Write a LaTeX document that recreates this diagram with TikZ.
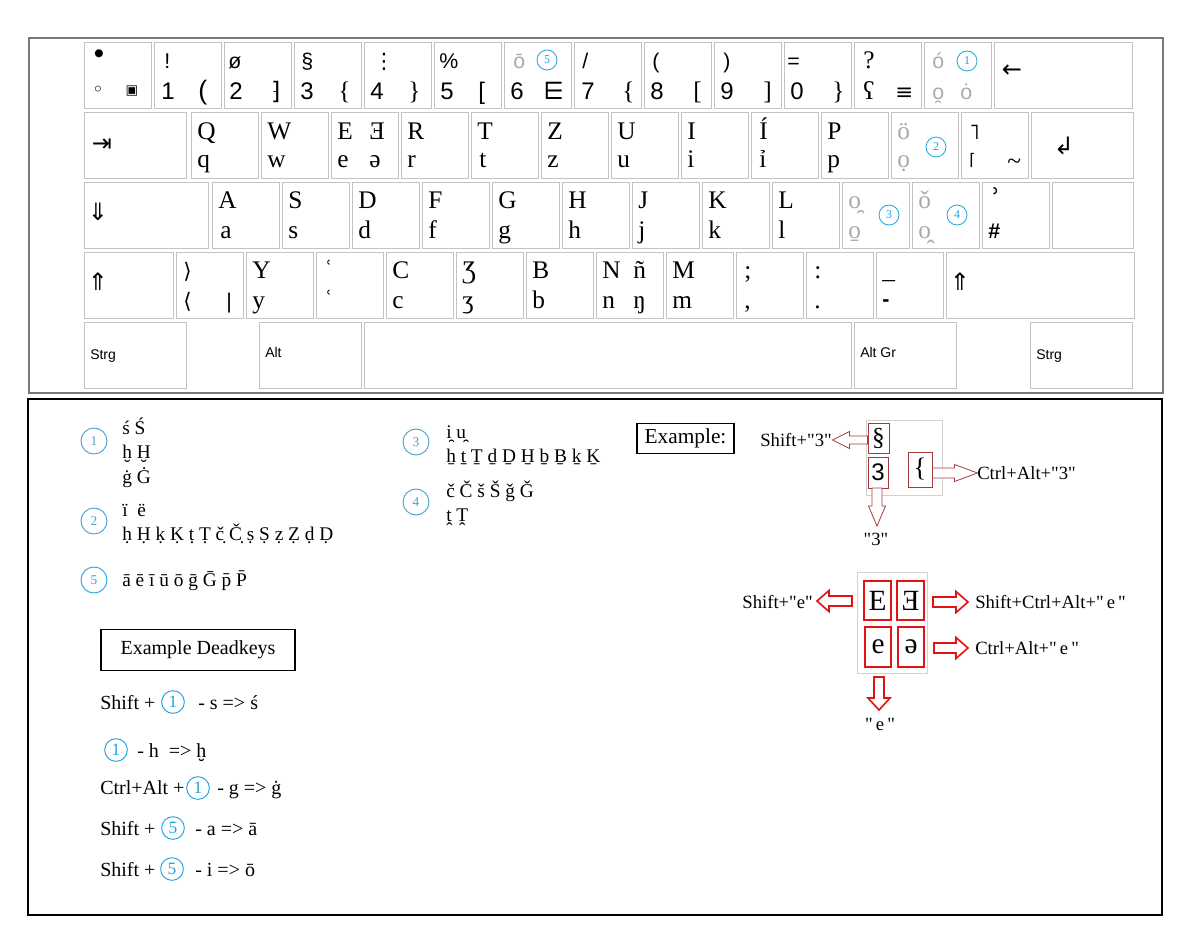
\documentclass[tikz,border=0pt]{standalone}
\usepackage{fontspec}
\setmainfont{Liberation Serif}[Ligatures=TeXOff]
\newfontfamily\ars{Liberation Sans}[Ligatures=TeXOff]
\newfontfamily\dvs{DejaVu Sans}
\definecolor{keyg}{RGB}{195,195,195}
\definecolor{cblue}{RGB}{30,165,225}
\definecolor{ctea}{RGB}{75,160,200}
\definecolor{dred}{RGB}{165,60,60}
\definecolor{bred}{RGB}{225,20,20}
\definecolor{grayt}{RGB}{170,170,170}
\definecolor{frameg}{RGB}{120,120,120}
\newcounter{lbc}
\newcommand\KL[5][]{\stepcounter{lbc}\node[lbl,#1,name=L\arabic{lbc}] at ([shift={(#3,#4)}]#2.north west) {#5};}
\newcommand\KC[5][]{\stepcounter{lbc}\node[lblc,#1,name=L\arabic{lbc}] at ([shift={(#3,#4)}]#2.north west) {#5};}
\newcommand\qd{\symbol{34}}
\tikzset{
  lbl/.style={anchor=base west, inner sep=0pt},
  lblc/.style={anchor=center, inner sep=0pt},
  key/.style={draw=keyg, line width=0.6pt, anchor=north west, inner sep=0pt, minimum height=49.5pt, minimum width=50.25pt},
  ser/.style={font=\fontsize{19}{19}\selectfont},
  snum/.style={font=\ars\fontsize{18}{18}\selectfont},
  stop/.style={font=\ars\fontsize{16}{16}\selectfont},
  dv/.style={font=\dvs\fontsize{16}{16}\selectfont},
  dvb/.style={font=\dvs\fontsize{18}{18}\selectfont},
  keyf/.style={font=\ars\fontsize{10.5}{10.5}\selectfont},
  gt/.style={text=grayt},
  kc/.style={circle, draw=cblue, line width=0.6pt, minimum size=15pt, inner sep=0pt, text=cblue, font=\fontsize{9}{9}\selectfont},
  lc/.style={circle, draw=ctea, line width=0.7pt, minimum size=19.5pt, inner sep=0pt, text=ctea, font=\fontsize{10}{10}\selectfont},
  ec/.style={circle, draw=cblue, line width=0.7pt, minimum size=17pt, inner sep=0pt, text=cblue, font=\fontsize{13}{13}\selectfont},
  lst/.style={anchor=base west, inner sep=0pt, font=\fontsize{14.5}{14.5}\selectfont},
  exl/.style={anchor=base west, inner sep=0pt, font=\fontsize{15}{15}\selectfont},
  arl/.style={inner sep=0pt, font=\fontsize{14}{14}\selectfont},
  rbox/.style={draw=dred, line width=0.7pt, inner sep=0pt},
  rboxb/.style={draw=bred, line width=1pt, inner sep=0pt, font=\fontsize{22}{22}\selectfont},
  pics/harrow/.style n args={4}{code={
    \draw[pic actions] (0,-#2/2) -- ({#1-#4},-#2/2) -- ({#1-#4},-#3/2) -- (#1,0) -- ({#1-#4},#3/2) -- ({#1-#4},#2/2) -- (0,#2/2) -- cycle;}}
}
\begin{document}
\begin{tikzpicture}[x=0.75pt,y=-0.75pt]
\useasboundingbox[fill=white] (0,0) rectangle (1184,936);
% frames
\draw[frameg, line width=0.8pt] (29,38) rectangle (1163,393);
\draw[black, line width=1.5pt] (28,399) rectangle (1162,915);

% ---------- Row 1
\foreach \i in {0,...,12} {\node[key] (r1k\i) at ({84+70*\i},42) {};}
\node[key, minimum width=103.5pt] (r1bs) at (994,42) {};
\KC[font=\ars\fontsize{22}{22}\selectfont]{r1k0}{15}{15}{•}
\KC[font=\dvs\fontsize{15}{15}\selectfont]{r1k0}{14}{49}{◦}
\KC[font=\dvs\fontsize{10}{10}\selectfont]{r1k0}{48}{49}{▣}
\KL[stop]{r1k1}{10}{26}{!}
\KL[snum]{r1k1}{7}{57}{1}
\KL[font=\ars\fontsize{20}{20}\selectfont]{r1k1}{44}{57}{(}
\KL[stop]{r1k2}{4}{26}{ø}
\KL[snum]{r1k2}{5}{57}{2}
\KL[dvb]{r1k2}{47}{57}{⁆}
\KL[stop]{r1k3}{7}{26}{§}
\KL[snum]{r1k3}{6}{57}{3}
\KL[ser]{r1k3}{44}{57}{\{}
\KL[dv]{r1k4}{9}{26}{⋮}
\KL[snum]{r1k4}{6}{57}{4}
\KL[ser]{r1k4}{44}{57}{\}}
\KL[stop]{r1k5}{5}{26}{\%}
\KL[snum]{r1k5}{6}{57}{5}
\KL[snum]{r1k5}{44}{57}{[}
\KL[stop,gt]{r1k6}{9}{26}{ō}
\KC[kc]{r1k6}{43}{18}{5}
\KL[snum]{r1k6}{6}{57}{6}
\KL[dvb]{r1k6}{39}{57}{⋿}
\KL[stop]{r1k7}{8}{26}{/}
\KL[snum]{r1k7}{7}{57}{7}
\KL[ser]{r1k7}{48}{57}{\{}
\KL[stop]{r1k8}{8}{26}{(}
\KL[snum]{r1k8}{6}{57}{8}
\KL[ser]{r1k8}{49}{57}{[}
\KL[stop]{r1k9}{9}{26}{)}
\KL[snum]{r1k9}{6}{57}{9}
\KL[ser]{r1k9}{49}{57}{]}
\KL[stop]{r1k10}{3}{26}{=}
\KL[snum]{r1k10}{6}{57}{0}
\KL[ser]{r1k10}{48}{57}{\}}
\KL[ser]{r1k11}{9}{26}{?}
\KL[ser]{r1k11}{9}{57}{ʕ}
\KL[dv]{r1k11}{41}{57}{≡}
\KL[stop,gt]{r1k12}{8}{26}{ó}
\KC[kc]{r1k12}{43}{19}{1}
\KL[stop,gt]{r1k12}{8}{57}{o̯}
\KL[stop,gt]{r1k12}{36}{57}{ȯ}
\KC[dvb]{r1bs}{18}{29}{←}

% ---------- Row 2
\node[key, minimum width=76.5pt] (tab) at (84,112) {};
\foreach \i in {0,...,11} {\node[key] (r2k\i) at ({191+70*\i},112) {};}
\node[key, minimum width=76.5pt] (enter) at (1031,112) {};
\KC[dvb]{tab}{18}{33}{⇥}
\KL[ser]{r2k0}{6}{27}{Q}\KL[ser]{r2k0}{6}{55}{q}
\KL[ser]{r2k1}{6}{27}{W}\KL[ser]{r2k1}{6}{55}{w}
\KL[ser]{r2k2}{6}{27}{E}\KL[ser]{r2k2}{6}{55}{e}
\KL[ser]{r2k2}{38}{27}{Ǝ}\KL[ser]{r2k2}{38}{55}{ə}
\KL[ser]{r2k3}{6}{27}{R}\KL[ser]{r2k3}{6}{55}{r}
\KL[ser]{r2k4}{6}{27}{T}\KL[ser]{r2k4}{8}{55}{t}
\KL[ser]{r2k5}{6}{27}{Z}\KL[ser]{r2k5}{6}{55}{z}
\KL[ser]{r2k6}{6}{27}{U}\KL[ser]{r2k6}{6}{55}{u}
\KL[ser]{r2k7}{6}{27}{I}\KL[ser]{r2k7}{6}{55}{i}
\KL[ser]{r2k8}{8}{27}{Í}\KL[ser]{r2k8}{8}{55}{ỉ}
\KL[ser]{r2k9}{6}{27}{P}\KL[ser]{r2k9}{6}{55}{p}
\KL[ser,gt]{r2k10}{6}{27}{ö}\KL[ser,gt]{r2k10}{6}{55}{ọ}
\KC[kc]{r2k10}{45}{35}{2}
\KL[dv]{r2k11}{8}{27}{˥}
\KL[font=\dvs\fontsize{12}{12}\selectfont]{r2k11}{8}{53}{⌈}
\KL[ser]{r2k11}{46}{57}{\char`\~}
\KC[dvb]{enter}{33}{34}{↲}

% ---------- Row 3
\node[key, minimum width=93pt] (caps) at (84,182) {};
\foreach \i in {0,...,11} {\node[key] (r3k\i) at ({212+70*\i},182) {};}
\node[key, minimum width=60.75pt] (r3end) at (1052,182) {};
\KC[dvb]{caps}{14}{30}{⇓}
\KL[ser]{r3k0}{6}{26}{A}\KL[ser]{r3k0}{8}{56}{a}
\KL[ser]{r3k1}{6}{26}{S}\KL[ser]{r3k1}{6}{56}{s}
\KL[ser]{r3k2}{6}{26}{D}\KL[ser]{r3k2}{6}{56}{d}
\KL[ser]{r3k3}{6}{26}{F}\KL[ser]{r3k3}{6}{56}{f}
\KL[ser]{r3k4}{6}{26}{G}\KL[ser]{r3k4}{6}{56}{g}
\KL[ser]{r3k5}{6}{26}{H}\KL[ser]{r3k5}{6}{56}{h}
\KL[ser]{r3k6}{6}{26}{J}\KL[ser]{r3k6}{6}{56}{j}
\KL[ser]{r3k7}{6}{26}{K}\KL[ser]{r3k7}{6}{56}{k}
\KL[ser]{r3k8}{6}{26}{L}\KL[ser]{r3k8}{6}{56}{l}
\KL[ser,gt]{r3k9}{6}{26}{o̯}\KL[ser,gt]{r3k9}{6}{56}{o̱}
\KC[kc]{r3k9}{47}{33}{3}
\KL[ser,gt]{r3k10}{6}{26}{ǒ}\KL[ser,gt]{r3k10}{6}{56}{o̭}
\KC[kc]{r3k10}{45}{33}{4}
\KL[font=\bfseries\fontsize{28}{28}\selectfont]{r3k11}{7}{32}{ʾ}
\KL[font=\ars\bfseries\fontsize{16}{16}\selectfont]{r3k11}{6}{56}{\#}

% ---------- Row 4
\node[key, minimum width=66.75pt] (lshift) at (84,252) {};
\foreach \i in {0,...,10} {\node[key] (r4k\i) at ({176+70*\i},252) {};}
\node[key, minimum width=141pt] (rshift) at (946,252) {};
\KC[dvb]{lshift}{14}{30}{⇑}
\KC[dvb]{rshift}{14}{30}{⇑}
\KL[dv]{r4k0}{7}{26}{⟩}\KL[dv]{r4k0}{7}{56}{⟨}
\KL[stop]{r4k0}{50}{56}{|}
\KL[ser]{r4k1}{6}{26}{Y}\KL[ser]{r4k1}{6}{56}{y}
\KL[ser]{r4k2}{8}{26}{ʿ}\KL[ser]{r4k2}{8}{56}{ʿ}
\KL[ser]{r4k3}{6}{26}{C}\KL[ser]{r4k3}{6}{56}{c}
\KL[ser]{r4k4}{6}{26}{Ʒ}\KL[ser]{r4k4}{6}{56}{ʒ}
\KL[ser]{r4k5}{6}{26}{B}\KL[ser]{r4k5}{6}{56}{b}
\KL[ser]{r4k6}{6}{26}{N}\KL[ser]{r4k6}{6}{56}{n}
\KL[ser]{r4k6}{37}{26}{ñ}\KL[ser]{r4k6}{37}{56}{ŋ}
\KL[ser]{r4k7}{6}{26}{M}\KL[ser]{r4k7}{6}{56}{m}
\KL[ser]{r4k8}{8}{26}{;}\KL[ser]{r4k8}{8}{56}{,}
\KL[ser]{r4k9}{8}{26}{:}\KL[ser]{r4k9}{8}{56}{.}
\KL[ser]{r4k10}{6}{26}{\_}\KL[font=\ars\bfseries\fontsize{16}{16}\selectfont]{r4k10}{6}{54}{-}

% ---------- Row 5
\node[key, minimum width=76.5pt] (lstrg) at (84,322) {};
\node[key, minimum width=76.5pt] (alt) at (259,322) {};
\node[key, minimum width=365.25pt] (space) at (364,322) {};
\node[key, minimum width=76.5pt] (altgr) at (854,322) {};
\node[key, minimum width=76.5pt] (rstrg) at (1030,322) {};
\KL[keyf]{lstrg}{6}{37}{Strg}
\KL[keyf]{alt}{6}{35}{Alt}
\KL[keyf]{altgr}{6}{35}{Alt Gr}
\KL[keyf]{rstrg}{6}{37}{Strg}

% ---------- Dead key listing
\node[lc] (c1) at (94,441) {1};
\node[lc] (c2) at (94,521) {2};
\node[lc, draw=cblue, text=cblue] (c5) at (94,580) {5};
\node[lc] (c3) at (416,442) {3};
\node[lc] (c4) at (416,502) {4};
\node[lst] (s1a) at (122,434) {ś Ś};
\node[lst] (s1b) at (122,458) {ḫ Ḫ};
\node[lst] (s1c) at (122,483) {ġ Ġ};
\node[lst] (s2a) at (122,516) {ï\ \ ë};
\node[lst] (s2b) at (122,540) {ḥ Ḥ ḳ Ḳ ṭ Ṭ č̣ Č̣ ṣ Ṣ ẓ Ẓ ḍ Ḍ};
\node[lst] (s5a) at (122,586) {ā ē ī ū ō ḡ Ḡ p̄ P̄};
\node[lst] (s3a) at (446,438) {i̯ u̯};
\node[lst] (s3b) at (446,462) {ẖ ṯ Ṯ ḏ Ḏ H̱ ḇ Ḇ ḵ Ḵ};
\node[lst] (s4a) at (446,497) {č Č š Š ǧ Ǧ};
\node[lst] (s4b) at (446,521) {ṱ Ṱ};

% ---------- Example deadkeys
\node[draw=black, line width=1pt, minimum width=145.5pt, minimum height=30.75pt, font=\fontsize{15}{15}\selectfont] (edk) at (198,650) {Example Deadkeys};
\node[exl] (e1a) at (100,709) {Shift +};
\node[ec] (e1c) at (173,702) {1};
\node[exl] (e1b) at (198,709) {- s => ś};
\node[ec] (e2c) at (116,750) {1};
\node[exl] (e2b) at (137,757) {- h\ \ => ḫ};
\node[exl] (e3a) at (100,794) {Ctrl+Alt +};
\node[ec] (e3c) at (198,788) {1};
\node[exl] (e3b) at (217,794) {- g => ġ};
\node[exl] (e4a) at (100,835) {Shift +};
\node[ec] (e4c) at (173,828) {5};
\node[exl] (e4b) at (195,835) {- a => ā};
\node[exl] (e5a) at (100,876) {Shift +};
\node[ec] (e5c) at (172,869) {5};
\node[exl] (e5b) at (195,876) {- i => ō};

% ---------- Example (key 3)
\node[draw=black, line width=0.8pt, minimum width=72.75pt, minimum height=22.5pt, font=\fontsize{16}{16}\selectfont] (exm) at (685.5,438.5) {Example:};
\node[draw=gray!35, line width=0.6pt, minimum width=57pt, minimum height=56.25pt] (g1) at (904,457.5) {};
\node[rbox, minimum width=15.75pt, minimum height=22.5pt, font=\fontsize{19}{19}\selectfont] (bsec) at (878.5,438) {§};
\node[rbox, minimum width=15pt, minimum height=23.25pt, font=\ars\fontsize{18}{18}\selectfont] (bthree) at (878,472.5) {3};
\node[rbox, minimum width=18pt, minimum height=26.25pt, font=\fontsize{20}{20}\selectfont] (bbrace) at (920,469.5) {\{};
\pic[draw=dred, fill=white, line width=0.6pt, rotate=180] at (bsec.west |- 0,440) {harrow={35}{8}{17}{17}};
\pic[draw=dred, fill=white, line width=0.6pt] at (bbrace.east |- 0,473) {harrow={45}{10}{17}{23}};
\pic[draw=dred, fill=white, line width=0.6pt, rotate=-90] at (877,488) {harrow={38}{10}{17}{20}};
\node[arl, anchor=base east] (t3s) at (832,446) {Shift+\qd 3\qd};
\node[arl, anchor=base west] (t3c) at (977,479) {Ctrl+Alt+\qd 3\qd};
\node[arl, anchor=base] (t3n) at (876,545) {\qd 3\qd};

% ---------- Example (key e)
\node[draw=gray!35, line width=0.6pt, minimum width=52.5pt, minimum height=75.75pt] (g2) at (892,622.5) {};
\node[rboxb, minimum width=20.25pt, minimum height=29.25pt] (bE) at (877.5,600.5) {E};
\node[rboxb, minimum width=20.25pt, minimum height=29.25pt] (bEr) at (910.5,600.5) {Ǝ};
\node[rboxb, minimum width=19.5pt, minimum height=30pt] (be) at (878,647) {e};
\node[rboxb, minimum width=19.5pt, minimum height=30pt] (bschwa) at (911,647) {ə};
\pic[draw=bred, fill=white, line width=1.2pt, rotate=180] at (852,601) {harrow={35}{10}{21}{12}};
\pic[draw=bred, fill=white, line width=1.2pt] at (933,602) {harrow={35}{10}{21}{12}};
\pic[draw=bred, fill=white, line width=1.2pt] at (934,648) {harrow={34}{10}{21}{12}};
\pic[draw=bred, fill=white, line width=1.2pt, rotate=-90] at (879,677) {harrow={33}{10}{22}{12}};
\node[arl, anchor=base east] (tes) at (813,608) {Shift+\qd e\qd};
\node[arl, anchor=base west] (tesc) at (975,608) {Shift+Ctrl+Alt+\qd\,e\,\qd};
\node[arl, anchor=base west] (tec) at (975,654) {Ctrl+Alt+\qd\,e\,\qd};
\node[arl, anchor=base] (ten) at (880,730) {\qd\,e\,\qd};
\end{tikzpicture}
\end{document}
